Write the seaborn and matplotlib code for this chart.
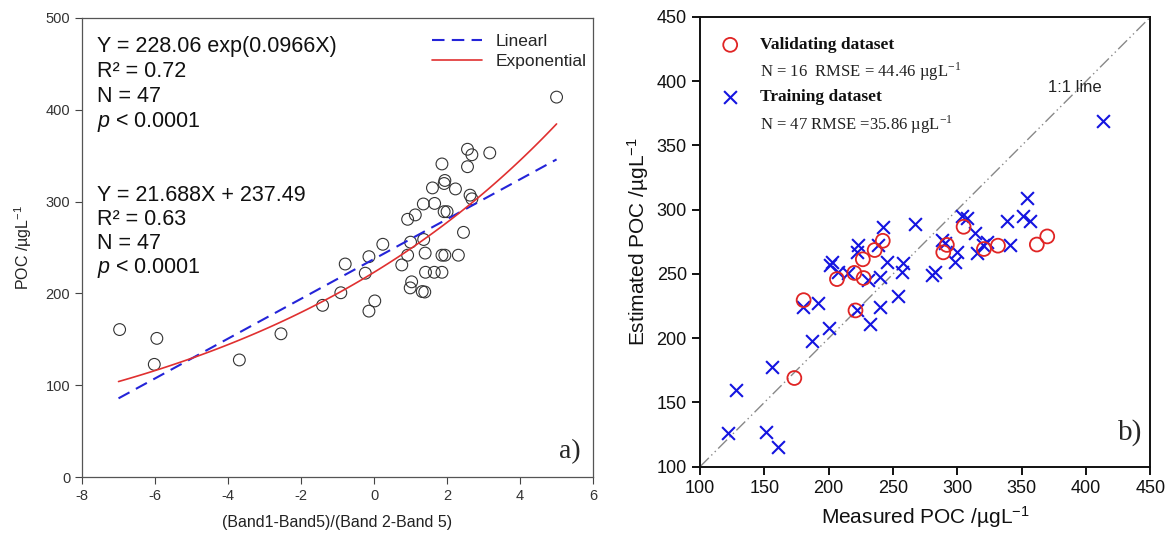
import numpy as np
import pandas as pd
import seaborn as sns
import matplotlib
matplotlib.use('Agg')
import matplotlib.pyplot as plt
from matplotlib.lines import Line2D

# ---- panel a data: band ratio vs measured POC
band_ratio = [-6.97, -5.95, -6.02, -3.69, -2.55, -1.41, -0.91, -0.79, -0.24, -0.14,
              -0.14, 0.02, 0.24, 0.76, 0.92, 0.92, 1.13, 1.00, 1.03, 0.99,
              1.32, 1.39, 1.35, 1.36, 1.40, 1.41, 1.65, 1.60, 1.66, 1.86,
              1.94, 1.92, 1.92, 2.00, 1.86, 1.86, 1.94, 2.23, 2.31, 2.45,
              2.56, 2.68, 2.56, 2.63, 2.68, 3.17, 5.00]
poc_a = [160.6, 151, 122.7, 127.5, 156, 187, 200.7, 232, 222, 240,
         180.7, 191.8, 253.5, 231, 241.6, 280.7, 285.5, 255.8, 212.6, 206,
         202, 201.5, 297.4, 258.7, 243.9, 223, 223, 314.9, 298, 341,
         323, 319.7, 289, 289, 223, 241.6, 241.6, 313.8, 241.6, 266.5,
         357, 351, 338, 307, 303, 353, 413.8]

# fitted models (parameters of the curves as drawn)
lin_slope, lin_icpt = 21.688, 237.49
exp_a, exp_b = 223.0, 0.109
fit_range = [-7.0, 5.0]

# ---- panel b data: measured vs estimated POC
valid_meas = [173.3, 180.5, 206.4, 220.8, 219.9, 226.5, 227.1, 235.7, 242.0, 289.0,
              291.8, 304.8, 320.6, 331.5, 361.7, 369.8]
valid_est = [169, 229.6, 246, 221.6, 250.8, 261.4, 246.8, 268.6, 275.8, 266.8,
             272.6, 286.7, 269.4, 272, 272.9, 279.2]

train_meas = [122.1, 150.9, 160.4, 127.7, 155.7, 186.8, 200.5, 232.1, 413.5,
              242.0, 267.0, 223.0, 221.7, 238.6, 202.3, 201.0, 207.5, 215.3, 230.8,
              239.9, 245.0, 258.0, 256.7, 254.1, 239.9, 191.9, 180.3, 221.7,
              353.8, 338.8, 351.2, 356.4, 303.3, 307.2, 313.7, 322.8, 320.1, 315.0,
              340.9, 287.8, 290.4, 299.5, 298.1, 282.6, 280.0]
train_est = [126.6, 127.3, 115.4, 159.7, 177.3, 198.0, 208.2, 211.0, 369.0,
             286.3, 288.9, 272.5, 267.3, 272.5, 259.5, 257.0, 251.8, 250.5, 245.3,
             247.9, 259.5, 258.3, 251.8, 232.8, 224.5, 227.6, 224.5, 222.0,
             308.9, 291.4, 295.1, 291.4, 295.1, 293.3, 282.1, 275.1, 272.5, 266.1,
             272.5, 276.4, 273.8, 267.3, 259.5, 251.8, 249.2]

one_to_one = [100, 450]

sns.set_style('ticks')
plt.rcParams['font.family'] = ['Liberation Sans', 'DejaVu Sans']
plt.rcParams['mathtext.fontset'] = 'custom'
plt.rcParams['mathtext.rm'] = 'Liberation Sans'
plt.rcParams['mathtext.it'] = 'Liberation Sans:italic'
plt.rcParams['axes.unicode_minus'] = False

fig = plt.figure(figsize=(11.7, 5.35), dpi=100)
ax1 = fig.add_axes([0.0701, 0.1084, 0.4368, 0.858])
ax2 = fig.add_axes([0.5983, 0.1277, 0.3850, 0.8406])

# ---------------- panel a ----------------
df_a = pd.DataFrame({'x': band_ratio, 'y': poc_a})
sns.scatterplot(data=df_a, x='x', y='y', ax=ax1, marker='o', s=72,
                facecolor='none', edgecolor='#333333', linewidth=0.8, zorder=3)

xs = np.linspace(fit_range[0], fit_range[1], 120)
df_lin = pd.DataFrame({'x': fit_range, 'y': [lin_slope * v + lin_icpt for v in fit_range]})
df_exp = pd.DataFrame({'x': xs, 'y': exp_a * np.exp(exp_b * xs)})
sns.lineplot(data=df_lin, x='x', y='y', ax=ax1, color='#2424d8', lw=1.5,
             dashes=False, zorder=4).lines[-1].set_dashes((6, 3.5))
sns.lineplot(data=df_exp, x='x', y='y', ax=ax1, color='#e03030', lw=1.2, zorder=4)

ax1.set_xlim(-8, 6)
ax1.set_ylim(0, 500)
ax1.set_xticks(range(-8, 7, 2))
ax1.set_yticks(range(0, 501, 100))
ax1.set_xlabel('(Band1-Band5)/(Band 2-Band 5)', fontsize=11.5, color='#222222', labelpad=9)
ax1.set_ylabel(r'POC /µgL$^{-1}$', fontsize=11.5, color='#222222', labelpad=8)
ax1.tick_params(direction='out', length=5, width=0.8, color='#444444',
                labelsize=10.5, labelcolor='#333333')
for sp in ax1.spines.values():
    sp.set_color('#555555')
    sp.set_linewidth(0.9)

block1 = ['Y = 228.06 exp(0.0966X)', 'R² = 0.72', 'N = 47', r'$p$ < 0.0001']
block2 = ['Y = 21.688X + 237.49', 'R² = 0.63', 'N = 47', r'$p$ < 0.0001']
for i, t in enumerate(block1):
    ax1.text(-7.6, 468.8 - i * 27.2, t, fontsize=15.5, va='center', ha='left', color='#111111')
for i, t in enumerate(block2):
    ax1.text(-7.6, 307 - i * 26.5, t, fontsize=15.5, va='center', ha='left', color='#111111')

handles = [Line2D([], [], color='#2424d8', lw=1.5, dashes=(6, 3.5)),
           Line2D([], [], color='#e03030', lw=1.2)]
ax1.legend(handles, ['Linearl', 'Exponential'], loc='upper right',
           bbox_to_anchor=(0.988, 0.965), frameon=False, fontsize=12.5,
           handlelength=2.9, handletextpad=0.8, labelspacing=0.25,
           borderpad=0, borderaxespad=0)
ax1.text(0.955, 0.055, 'a)', transform=ax1.transAxes, fontsize=20,
         family='Liberation Serif', ha='center', va='center')

# ---------------- panel b ----------------
df_v = pd.DataFrame({'m': valid_meas, 'e': valid_est})
df_t = pd.DataFrame({'m': train_meas, 'e': train_est})
ax2.plot(one_to_one, one_to_one, color='#888888', lw=1.0,
         dashes=(9, 2.5, 1, 2.5, 1, 2.5), zorder=1)
sns.scatterplot(data=df_t, x='m', y='e', ax=ax2, marker='x', s=85,
                color='#1414e0', linewidth=1.5, zorder=3)
sns.scatterplot(data=df_v, x='m', y='e', ax=ax2, marker='o', s=100,
                facecolor='none', edgecolor='#e02424', linewidth=1.3, zorder=4)

ax2.set_xlim(100, 450)
ax2.set_ylim(100, 450)
ax2.set_xticks(range(100, 451, 50))
ax2.set_yticks(range(100, 451, 50))
ax2.set_xlabel(r'Measured POC /µgL$^{-1}$', fontsize=15, color='#111111', labelpad=5)
ax2.set_ylabel(r'Estimated POC /µgL$^{-1}$', fontsize=15, color='#111111', labelpad=4)
ax2.tick_params(direction='out', length=6, width=1.4, color='#111111',
                labelsize=13, labelcolor='#111111')
for sp in ax2.spines.values():
    sp.set_color('#111111')
    sp.set_linewidth(1.4)

ax2.text(391.5, 395, '1:1 line', fontsize=12, ha='center', va='center', color='#222222')

# legend drawn as marker + text block
ax2.scatter([0.067], [0.938], transform=ax2.transAxes, marker='o', s=100,
            facecolor='none', edgecolor='#e02424', linewidth=1.3)
ax2.scatter([0.067], [0.823], transform=ax2.transAxes, marker='x', s=85,
            color='#1414e0', linewidth=1.5)
serif = 'Liberation Serif'
ax2.text(0.133, 0.938, 'Validating dataset', transform=ax2.transAxes, fontsize=12.5,
         fontweight='bold', family=serif, va='center', color='#111111')
ax2.text(0.133, 0.879, r'N = 16  RMSE = 44.46 µgL$^{\mathregular{-1}}$', transform=ax2.transAxes,
         fontsize=12, family=serif, va='center', color='#222222',
         math_fontfamily='stix')
ax2.text(0.133, 0.823, 'Training dataset', transform=ax2.transAxes, fontsize=12.5,
         fontweight='bold', family=serif, va='center', color='#111111')
ax2.text(0.133, 0.760, r'N = 47 RMSE =35.86 µgL$^{\mathregular{-1}}$', transform=ax2.transAxes,
         fontsize=12, family=serif, va='center', color='#222222',
         math_fontfamily='stix')
ax2.text(0.955, 0.075, 'b)', transform=ax2.transAxes, fontsize=21,
         family=serif, ha='center', va='center')

fig.savefig('out.png', dpi=100)
